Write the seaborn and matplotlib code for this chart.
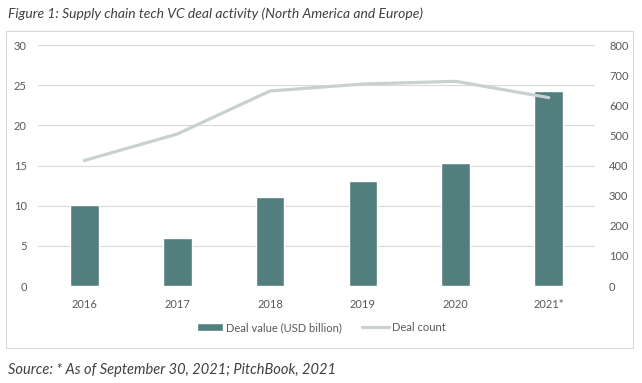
import seaborn as sns
import matplotlib.pyplot as plt
import pandas as pd
from matplotlib.patches import Rectangle
from matplotlib.lines import Line2D
from matplotlib.patches import Patch

years = ["2016", "2017", "2018", "2019", "2020", "2021*"]
deal_value = [10.1, 6.0, 11.1, 13.1, 15.3, 24.3]
deal_count = [417, 505, 648, 671, 680, 626]

bar_color = "#527E7E"
line_color = "#C8D1D0"
text_color = "#595959"

sns.set_theme(style="white")
plt.rcParams["font.family"] = ["Lato", "DejaVu Sans"]

df = pd.DataFrame({"year": years, "value": deal_value, "count": deal_count})

fig = plt.figure(figsize=(6.42, 3.83), dpi=100)
ax = fig.add_axes([0.059, 0.253, 0.868, 0.629])

sns.barplot(data=df, x="year", y="value", color=bar_color, width=0.31,
            saturation=1, ax=ax)
ax.set_ylim(0, 30)
ax.set_yticks(range(0, 31, 5))
ax.set_xlim(-0.5, 5.5)
ax.yaxis.grid(True, color="#D9D9D9", linewidth=0.8)
ax.set_axisbelow(True)
ax.set_xlabel("")
ax.set_ylabel("")

ax2 = ax.twinx()
sns.lineplot(data=df, x="year", y="count", color=line_color, linewidth=2.3,
             ax=ax2, sort=False)
ax2.set_ylim(0, 800)
ax2.set_yticks(range(0, 801, 100))
ax2.set_ylabel("")
ax2.grid(False)

for a in (ax, ax2):
    for s in a.spines.values():
        s.set_visible(False)
    a.tick_params(length=0, colors=text_color, labelsize=8)
ax.tick_params(axis="x", pad=9)
ax.tick_params(axis="y", pad=8)
ax2.tick_params(axis="y", pad=10)

handles = [Patch(facecolor=bar_color, label="Deal value (USD billion)"),
           Line2D([0], [0], color=line_color, linewidth=2.3, label="Deal count")]
fig.legend(handles=handles, loc="center", bbox_to_anchor=(0.5, 0.145),
           ncol=2, frameon=False, fontsize=8, labelcolor=text_color,
           handlelength=2.4, handleheight=0.7, columnspacing=1.8,
           handletextpad=0.25)

fig.patches.append(Rectangle((0.0095, 0.092), 0.977, 0.826, transform=fig.transFigure,
                             fill=False, edgecolor="#D9D9D9", linewidth=0.8))

fig.text(0.012, 0.963, "Figure 1: Supply chain tech VC deal activity (North America and Europe)",
         fontsize=10, style="italic", color="#404040", va="center", ha="left")
fig.text(0.012, 0.034, "Source: * As of September 30, 2021; PitchBook, 2021",
         fontsize=10.5, style="italic", color="#404040", va="center", ha="left")

fig.savefig("out.png", dpi=100)
